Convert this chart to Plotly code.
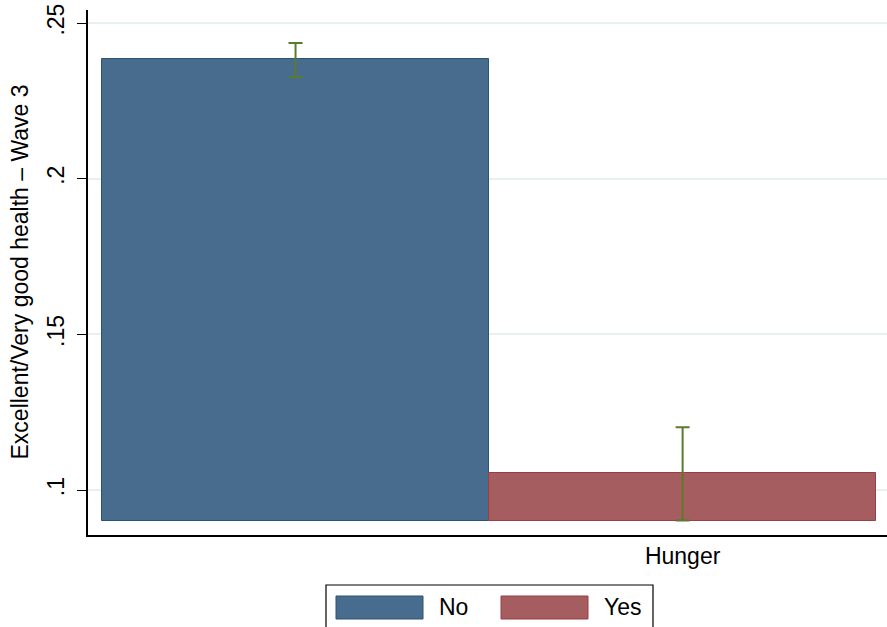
import plotly.graph_objects as go

# Share reporting excellent / very good health at wave 3, by hunger status
groups = ["No", "Yes"]
means = [0.2384, 0.1055]
ci_low = [0.2327, 0.0902]
ci_high = [0.2436, 0.1202]
bar_base = 0.09

y_ticks = [0.10, 0.15, 0.20, 0.25]
y_tick_labels = [".1", ".15", ".2", ".25"]
x_label = "Hunger"
y_title = "Excellent/Very good health \u2013 Wave 3"

fill_colors = ["#486c8d", "#a55d60"]
edge_colors = ["#2c5274", "#9a3d47"]
ci_color = "#5b7a2e"
font_family = "Liberation Sans, Arial, sans-serif"

W, H = 887, 627
L, R, T, B = 88, 0, 10, 92
pw, ph = W - L - R, H - T - B


def px(xp):
    return (xp - L) / pw


def py(yp):
    return (H - B - yp) / ph


fig = go.Figure()
for i, g in enumerate(groups):
    fig.add_trace(go.Bar(
        x=[i], y=[means[i] - bar_base], base=bar_base, width=1,
        name=g, showlegend=False,
        marker=dict(color=fill_colors[i], line=dict(color=edge_colors[i], width=1)),
        error_y=dict(type="data", symmetric=False,
                     array=[ci_high[i] - means[i]],
                     arrayminus=[means[i] - ci_low[i]],
                     color=ci_color, thickness=2, width=7),
    ))

shapes = []
annotations = []

# legend frame and keys
shapes.append(dict(type="rect", xref="paper", yref="paper",
                   x0=px(326), x1=px(653), y0=py(629), y1=py(585),
                   line=dict(color="#000000", width=1.2), fillcolor="white"))
key_x = [336, 501]
for i, g in enumerate(groups):
    shapes.append(dict(type="rect", xref="paper", yref="paper",
                       x0=px(key_x[i]), x1=px(key_x[i] + 87), y0=py(619), y1=py(596),
                       line=dict(color=edge_colors[i], width=1), fillcolor=fill_colors[i]))
    annotations.append(dict(xref="paper", yref="paper", x=px(key_x[i] + 101), y=py(607),
                            text=g, showarrow=False, xanchor="left", yanchor="middle",
                            font=dict(size=23, color="black", family=font_family)))

annotations.append(dict(xref="paper", yref="paper", x=px(19), y=0.5, text=y_title,
                        textangle=-90, showarrow=False, xanchor="center", yanchor="middle",
                        font=dict(size=23, color="black", family=font_family)))

fig.update_layout(
    width=W, height=H,
    margin=dict(l=L, r=R, t=T, b=B, pad=0),
    paper_bgcolor="white", plot_bgcolor="white",
    bargap=0, barmode="overlay",
    showlegend=False,
    shapes=shapes, annotations=annotations,
    font=dict(family=font_family, size=22, color="black"),
    xaxis=dict(range=[-0.5362, 1.528], tickvals=[1], ticktext=[x_label],
               ticks="", showgrid=False, zeroline=False,
               showline=True, linecolor="black", linewidth=1.5,
               tickfont=dict(size=23), ticklabelstandoff=0),
    yaxis=dict(range=[0.08555, 0.2542], tickvals=y_ticks, ticktext=y_tick_labels,
               tickangle=-90, ticks="outside", ticklen=9, tickwidth=1.2, tickcolor="black",
               showgrid=True, gridcolor="#e8f0f2", gridwidth=1.5, zeroline=False,
               showline=True, linecolor="black", linewidth=1.5,
               tickfont=dict(size=23), ticklabelstandoff=4),
)

fig.write_html("out.html")
